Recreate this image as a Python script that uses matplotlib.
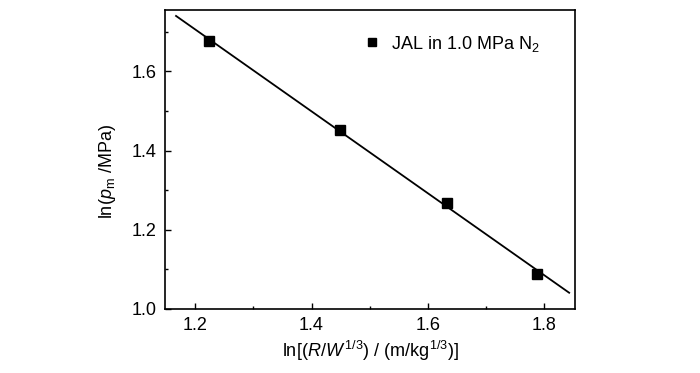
import matplotlib
matplotlib.use("Agg")
import matplotlib.pyplot as plt
from matplotlib.ticker import MultipleLocator

plt.rcParams['font.family'] = ['Liberation Sans', 'DejaVu Sans']
plt.rcParams['mathtext.fontset'] = 'custom'
plt.rcParams['mathtext.rm'] = 'Liberation Sans'
plt.rcParams['mathtext.it'] = 'Liberation Sans:italic'
plt.rcParams['mathtext.sf'] = 'Liberation Sans'

# measured points
ln_rw = [1.224, 1.449, 1.633, 1.788]
ln_pm = [1.677, 1.452, 1.267, 1.088]

# linear fit line ends
fit_x = [1.167, 1.843]
fit_y = [1.740, 1.041]

fig = plt.figure(figsize=(7, 3.73), dpi=100)
ax = fig.add_axes([0.2357, 0.1716, 0.5857, 0.8016])

ax.plot(fit_x, fit_y, color='black', lw=1.3)
ax.plot(ln_rw, ln_pm, ls='none', marker='s', ms=6.5, color='black',
        label='JAL in 1.0 MPa N$_2$')

ax.set_xlim(1.148, 1.853)
ax.set_ylim(1.0, 1.755)
ax.xaxis.set_minor_locator(MultipleLocator(0.1))
ax.yaxis.set_minor_locator(MultipleLocator(0.1))
ax.set_xticks([1.2, 1.4, 1.6, 1.8])
ax.set_xticklabels(['1.2', '1.4', '1.6', '1.8'])
ax.set_yticks([1.0, 1.2, 1.4, 1.6])
ax.set_yticklabels(['1.0', '1.2', '1.4', '1.6'])

ax.tick_params(which='major', direction='in', length=4, width=1, labelsize=13, pad=6)
ax.tick_params(which='minor', direction='in', length=2.5, width=1)
for s in ax.spines.values():
    s.set_linewidth(1.2)

ax.set_xlabel('ln[($\\mathit{R/W}^{\\,1/3}$) / (m/kg$^{1/3}$)]', fontsize=13, labelpad=3)
ax.set_ylabel('ln($\\mathit{p}_{\\mathrm{m}}$ /MPa)', fontsize=13)
ax.yaxis.set_label_coords(-0.115, 0.46)

ax.legend(loc='upper left', bbox_to_anchor=(0.44, 0.975), frameon=False,
          fontsize=13, handletextpad=0.45, handlelength=1.2, markerscale=0.85)

fig.savefig('out.png', dpi=100)
